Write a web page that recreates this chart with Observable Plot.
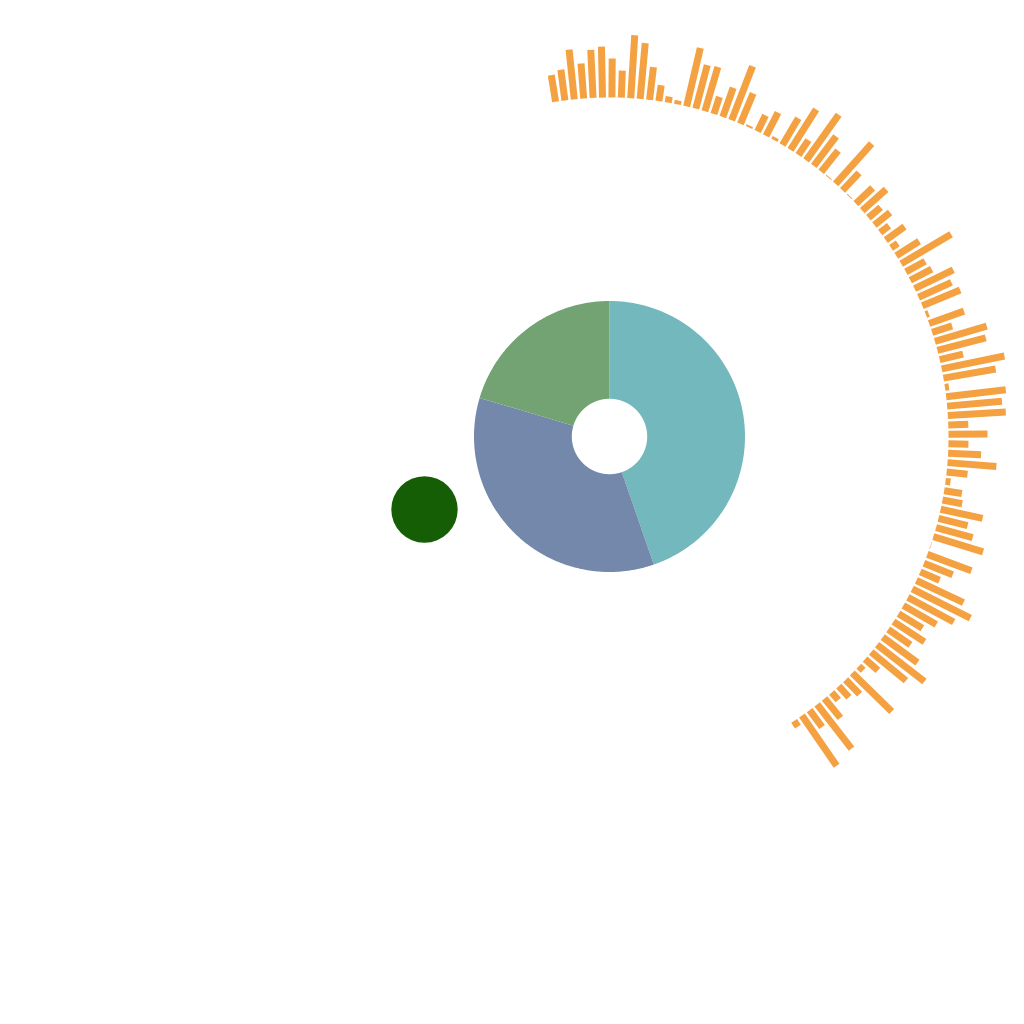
<!DOCTYPE html>
<html>
<head>
<meta charset="utf-8">
<script src="https://cdn.jsdelivr.net/npm/d3@7"></script>
<script src="https://cdn.jsdelivr.net/npm/@observablehq/plot@0.6"></script>
<style>
  html, body { margin: 0; padding: 0; background: #ffffff; overflow: hidden; }
  #chart svg { display: block; }
</style>
</head>
<body>
<div id="chart"></div>
<script>
// ---- data ----
const sliceNames = ["A", "B", "C"];
const sliceValues = [44.7, 34.9, 20.4];
const sliceColors = ["#73b8bc", "#7388ab", "#73a373"];

const markerPoint = [{x: -185, y: -73}];
const markerColor = "#155e05";

const barValues = [
  27, 31, 50, 35, 48, 51, 39, 27, 63, 56,
  33, 16, 6, 4, 60, 45, 46, 18, 31, 58,
  33, 2, 18, 26, 3, 31, 48, 18, 56, 37,
  27, 1, 54, 24, 1, 23, 32, 16, 20, 11,
  23, 8, 27, 58, 22, 24, 43, 36, 41, 3,
  37, 21, 54, 50, 24, 64, 53, 4, 60, 55,
  58, 20, 39, 20, 33, 49, 21, 5, 18, 20,
  43, 30, 38, 52, 0.5, 47, 31, 21, 52, 65,
  52, 38, 28, 37, 27, 43, 60, 45, 17, 6,
  55, 20, 15, 10, 25, 56, 21, 61, 7
];
const barColor = "#f4a142";

// ---- layout parameters ----
const donutOuter = 135.5, donutInner = 37.7;
const barBase = 339;
const angleStart = -9.15, angleEnd = 147.0; // degrees clockwise from north

// donut polygons built from the pie layout
const pie = d3.pie().sort(null).startAngle(0).endAngle(2 * Math.PI)(sliceValues);
function slicePolygon(arc) {
  const pts = [];
  const n = Math.max(8, Math.ceil((arc.endAngle - arc.startAngle) / (Math.PI / 360)));
  for (let i = 0; i <= n; i++) {
    const a = arc.startAngle + (arc.endAngle - arc.startAngle) * i / n;
    pts.push({x: donutOuter * Math.sin(a), y: donutOuter * Math.cos(a)});
  }
  for (let i = n; i >= 0; i--) {
    const a = arc.startAngle + (arc.endAngle - arc.startAngle) * i / n;
    pts.push({x: donutInner * Math.sin(a), y: donutInner * Math.cos(a)});
  }
  return pts;
}

const angle = d3.scaleLinear().domain([0, barValues.length - 1]).range([angleStart, angleEnd]);
const bars = barValues.map((v, i) => {
  const t = angle(i) * Math.PI / 180;
  return {
    x1: barBase * Math.sin(t), y1: barBase * Math.cos(t),
    x2: (barBase + v) * Math.sin(t), y2: (barBase + v) * Math.cos(t)
  };
});

const chart = Plot.plot({
  width: 1024,
  height: 1024,
  margin: 0,
  x: {domain: [-609, 415], axis: null},
  y: {domain: [-588, 436], axis: null},
  marks: [
    ...pie.map((arc, i) => Plot.line(slicePolygon(arc), {
      x: "x", y: "y", fill: sliceColors[i], stroke: "none"
    })),
    Plot.dot(markerPoint, {x: "x", y: "y", r: 33.2, fill: markerColor, stroke: "none"}),
    Plot.link(bars, {
      x1: "x1", y1: "y1", x2: "x2", y2: "y2",
      stroke: barColor, strokeWidth: 7, strokeLinecap: "butt"
    })
  ]
});
document.getElementById("chart").appendChild(chart);
</script>
</body>
</html>
